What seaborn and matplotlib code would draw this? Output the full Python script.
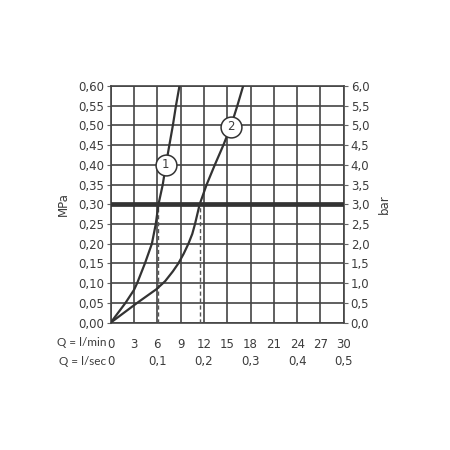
import matplotlib
matplotlib.use("Agg")
import matplotlib.pyplot as plt
import seaborn as sns
import pandas as pd
from matplotlib.ticker import FuncFormatter

# flow rate (l/min) vs pressure (MPa)
curve1_q = [0, 1.9, 3.0, 3.4, 4.4, 5.3, 5.8, 6.15, 6.7, 7.1, 7.55, 8.0, 8.4, 8.85]
curve1_p = [0, 0.05, 0.083, 0.10, 0.15, 0.20, 0.25, 0.30, 0.35, 0.40, 0.45, 0.50, 0.55, 0.60]
curve2_q = [0, 3.4, 5.9, 7.0, 8.0, 8.7, 9.4, 10.0, 10.5, 10.85, 11.45, 12.35, 13.4, 14.5, 15.5, 16.3, 17.05]
curve2_p = [0, 0.05, 0.085, 0.105, 0.13, 0.15, 0.175, 0.20, 0.225, 0.25, 0.30, 0.35, 0.40, 0.45, 0.50, 0.55, 0.60]

label_pos = [(7.1, 0.40, "1"), (15.45, 0.497, "2")]
dash_q = [6.15, 11.45]
ref_pressure = 0.30

lmin_ticks = list(range(0, 31, 3))
lsec_ticks = [0, 6, 12, 18, 24, 30]
lsec_labels = ["0", "0,1", "0,2", "0,3", "0,4", "0,5"]

ink = "#333333"
txt = "#3c3c3c"
fs = 8.5

sns.set_style("white")
plt.rcParams["font.family"] = ["DejaVu Sans"]

fig = plt.figure(figsize=(4.5, 4.5), dpi=100)
ax = fig.add_axes([0.246, 0.283, 0.518, 0.526])

df1 = pd.DataFrame({"q": curve1_q, "p": curve1_p})
df2 = pd.DataFrame({"q": curve2_q, "p": curve2_p})
sns.lineplot(data=df1, x="q", y="p", sort=False, color=ink, lw=1.6, ax=ax, zorder=4)
sns.lineplot(data=df2, x="q", y="p", sort=False, color=ink, lw=1.6, ax=ax, zorder=4)

ax.axhline(ref_pressure, color=ink, lw=3.4, zorder=5)
for q in dash_q:
    ax.plot([q, q], [0, ref_pressure], color="#555555", lw=1.0, ls=(0, (3, 2)), zorder=3)

for x, y, s in label_pos:
    ax.plot(x, y, "o", ms=15, mfc="white", mec=ink, mew=1.1, zorder=6)
    ax.text(x, y, s, ha="center", va="center", fontsize=fs, color=txt, zorder=7)

ax.set_xlim(0, 30)
ax.set_ylim(0, 0.60)
ax.set_xticks(lmin_ticks)
ax.set_xticklabels([str(t) for t in lmin_ticks])
ax.set_yticks([i * 0.05 for i in range(13)])
ax.yaxis.set_major_formatter(FuncFormatter(lambda v, _: f"{v:.2f}".replace(".", ",")))
ax.grid(True, color="#444444", lw=1.2)
ax.set_axisbelow(True)
for sp in ax.spines.values():
    sp.set_color("#444444")
    sp.set_linewidth(1.2)
ax.tick_params(axis="x", length=0, pad=11, labelsize=fs, colors=txt)
ax.tick_params(axis="y", length=3, width=0.8, color="#666666", pad=2, labelsize=fs, labelcolor=txt)
ax.set_xlabel("")
ax.set_ylabel("MPa", fontsize=fs, color=txt, labelpad=6)

ax2 = ax.twinx()
ax2.set_ylim(0, 6.0)
ax2.set_yticks([i * 0.5 for i in range(13)])
ax2.yaxis.set_major_formatter(FuncFormatter(lambda v, _: f"{v:.1f}".replace(".", ",")))
ax2.tick_params(axis="y", length=3, width=0.8, color="#666666", pad=2, labelsize=fs, labelcolor=txt)
ax2.set_ylabel("bar", fontsize=fs, color=txt, rotation=90, labelpad=6)
for sp in ax2.spines.values():
    sp.set_visible(False)

trans = ax.get_xaxis_transform()
for q, s in zip(lsec_ticks, lsec_labels):
    ax.text(q, -0.166, s, transform=trans, ha="center", va="center", fontsize=fs, color=txt)

fig.text(0.236, 0.238, "Q = l/min", ha="right", va="center", fontsize=8.5, color=txt, family="Lato")
fig.text(0.236, 0.196, "Q = l/sec", ha="right", va="center", fontsize=8.5, color=txt, family="Lato")

fig.savefig("out.png", dpi=100, facecolor="white")
